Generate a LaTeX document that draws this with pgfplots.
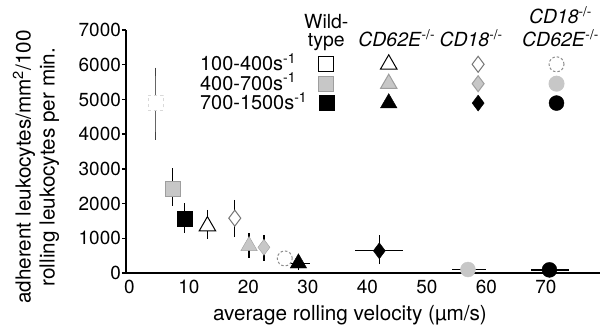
\documentclass[border=0pt]{standalone}
\usepackage{pgfplots}
\pgfplotsset{compat=1.18}
\usepackage{fontspec}
\setmainfont{TeX Gyre Heros}
\newcommand{\tkfont}{\fontsize{19}{22}\selectfont}
\newcommand{\lbfont}{\fontsize{20.8}{24}\selectfont}
\newcommand{\lgfont}{\fontsize{20}{20}\selectfont}
\newcommand{\hdfont}{\fontsize{19.5}{18.5}\selectfont}
\definecolor{lgray}{gray}{0.78}
\definecolor{mgray}{gray}{0.62}
\pgfplotsset{
  legmark/.style={legend image code/.code={\draw[#1] plot coordinates {(0bp,-1.5bp)}; \path (0bp,-9.5bp) (0bp,9.5bp);}},
  hdr/.style n args={4}{legend image code/.code={\node[overlay, anchor=base, inner sep=0pt] at (#1,0bp) {\hdfont\begin{tabular}[b]{@{}c@{}}#2\end{tabular}}; \path (-#3,-6bp) (#4,33.5bp);}},
  eb/.style={error bars/.cd, y dir=both, y explicit,
    error bar style={line width=1.3bp, black},
    error mark options={mark size=4bp, line width=1.3bp, black}},
  ebx/.style={error bars/.cd, y dir=both, y explicit, x dir=both, x explicit,
    error bar style={line width=1.3bp, black},
    error mark options={mark size=4bp, line width=1.3bp, black}},
}
\begin{document}
\begin{tikzpicture}
\begin{axis}[
  at={(0,0)}, anchor=south west,
  scale only axis, width=474bp, height=243bp,
  xmin=-0.59, xmax=79.1, ymin=0, ymax=7000,
  axis lines*=left, axis line style={line width=1.6bp, -},
  xtick={0,10,...,70}, ytick={0,1000,...,7000},
  tick align=outside, major tick length=4bp,
  tick style={line width=1.3bp, black},
  xtick style={draw=none},
  scaled y ticks=false,
  /pgf/number format/assume math mode=true,
  /pgf/number format/1000 sep={},
  tick label style={font=\tkfont},
  yticklabel style={inner xsep=1bp},
  every axis x label/.style={at={(axis description cs:0.4726,0)}, yshift=-42bp, anchor=center, font=\lbfont},
  every axis y label/.style={at={(axis description cs:0,0.436)}, xshift=-90bp, rotate=90, anchor=center, align=center, font=\lbfont},
  xlabel={average rolling velocity (µm/s)},
  ylabel={adherent leukocytes/mm\textsuperscript{2}/100\\rolling leukocytes per min.},
  clip=false,
  legend columns=5, legend cell align=left,
  legend style={at={(axis description cs:0.156,1.07)}, anchor=north west, draw=none, fill=none, inner sep=0pt, column sep=0pt, row sep=0pt, nodes={inner sep=0pt, text depth=0.15em}, font=\lgfont},
]
% legend header row
\addlegendimage{empty legend}\addlegendentry{\mbox{}}
\addlegendimage{hdr={0bp}{Wild-\\type}{26bp}{30bp}}\addlegendentry{\mbox{}}
\addlegendimage{hdr={8bp}{\textit{CD62E}\textsuperscript{-/-}}{31bp}{46bp}}\addlegendentry{\mbox{}}
\addlegendimage{hdr={-7bp}{\textit{CD18}\textsuperscript{-/-}}{42bp}{38bp}}\addlegendentry{\mbox{}}
\addlegendimage{hdr={4bp}{\textit{CD18}\textsuperscript{-/-}\\\textit{CD62E}\textsuperscript{-/-}}{39bp}{45bp}}\addlegendentry{\mbox{}}
% row 1
\addlegendimage{empty legend}\addlegendentry{\makebox[100bp][l]{100-400s\textsuperscript{-1}}}
\addlegendimage{legmark={only marks, mark=square*, mark size=7.5bp, draw=black, fill=white, line width=1bp}}\addlegendentry{\mbox{}}
\addlegendimage{legmark={only marks, mark=triangle*, mark size=9.5bp, draw=black, fill=white, line width=1bp}}\addlegendentry{\mbox{}}
\addlegendimage{legmark={only marks, mark=diamond*, mark size=8bp, draw=black!55, fill=white, line width=1bp}}\addlegendentry{\mbox{}}
\addlegendimage{legmark={only marks, mark=*, mark size=7.5bp, draw=black!45, fill=white, line width=1bp, mark options={dash pattern=on 2.5bp off 2bp}}}\addlegendentry{\mbox{}}
% row 2
\addlegendimage{empty legend}\addlegendentry{\makebox[100bp][l]{400-700s\textsuperscript{-1}}}
\addlegendimage{legmark={only marks, mark=square*, mark size=7.5bp, draw=mgray, fill=lgray, line width=1bp}}\addlegendentry{\mbox{}}
\addlegendimage{legmark={only marks, mark=triangle*, mark size=9.5bp, draw=mgray, fill=lgray, line width=1bp}}\addlegendentry{\mbox{}}
\addlegendimage{legmark={only marks, mark=diamond*, mark size=8bp, draw=mgray, fill=lgray, line width=1bp}}\addlegendentry{\mbox{}}
\addlegendimage{legmark={only marks, mark=*, mark size=7.5bp, draw=lgray, fill=lgray, line width=1bp}}\addlegendentry{\mbox{}}
% row 3
\addlegendimage{empty legend}\addlegendentry{\makebox[100bp][l]{700-1500s\textsuperscript{-1}}}
\addlegendimage{legmark={only marks, mark=square*, mark size=7.5bp, draw=black, fill=black}}\addlegendentry{\mbox{}}
\addlegendimage{legmark={only marks, mark=triangle*, mark size=9.5bp, draw=black, fill=black}}\addlegendentry{\mbox{}}
\addlegendimage{legmark={only marks, mark=diamond*, mark size=8bp, draw=black, fill=black}}\addlegendentry{\mbox{}}
\addlegendimage{legmark={only marks, mark=*, mark size=7.5bp, draw=black, fill=black}}\addlegendentry{\mbox{}}

% data
\addplot[forget plot, only marks, mark=square*, mark size=7.5bp, draw=gray!30, fill=white, mark options={line width=0.8bp, dash pattern=on 3bp off 3bp},
  error bars/.cd, y dir=both, y explicit, error bar style={line width=1.3bp, black!60}, error mark options={mark size=4bp, line width=1.3bp, black!75}]
  coordinates {(4.4,4900) += (0,900) -= (0,940)};
\addplot[forget plot, only marks, mark=square*, mark size=7.5bp, draw=mgray, fill=lgray, eb]
  coordinates {(7.2,2440) += (0,460) -= (0,385)};
\addplot[forget plot, only marks, mark=square*, mark size=7.5bp, draw=black, fill=black, eb]
  coordinates {(9.3,1550) += (0,350) -= (0,280)};
\addplot[forget plot, only marks, mark=triangle*, mark size=9.5bp, draw=black, fill=white, mark options={line width=1bp}, eb]
  coordinates {(13.1,1350) += (0,350) -= (0,255)};
\addplot[forget plot, only marks, mark=diamond*, mark size=8bp, draw=black!55, fill=white, mark options={line width=1bp}, eb]
  coordinates {(17.7,1580) += (0,410) -= (0,430)};
\addplot[forget plot, only marks, mark=triangle*, mark size=9.5bp, draw=mgray, fill=lgray, eb]
  coordinates {(20.1,780) += (0,250) -= (0,230)};
\addplot[forget plot, only marks, mark=diamond*, mark size=8bp, draw=mgray, fill=lgray, eb]
  coordinates {(22.6,740) += (0,240) -= (0,270)};
\addplot[forget plot, only marks, mark=*, mark size=7.5bp, draw=black!45, fill=white, mark options={line width=1bp, dash pattern=on 2.5bp off 2bp}]
  coordinates {(26.1,420)};
\addplot[forget plot, only marks, mark=triangle*, mark size=9.5bp, draw=black, fill=black, ebx]
  coordinates {(28.4,280) += (1.2,80) -= (1.2,80)};
\addplot[forget plot, only marks, mark=diamond*, mark size=8bp, draw=black, fill=black, ebx]
  coordinates {(42.0,640) += (3.3,330) -= (3.4,270)};
\addplot[forget plot, only marks, mark=*, mark size=7.5bp, draw=lgray, fill=lgray, ebx]
  coordinates {(56.9,100) += (2.3,0) -= (2.0,0)};
\addplot[forget plot, only marks, mark=*, mark size=7.5bp, draw=black, fill=black, ebx]
  coordinates {(70.6,90) += (2.6,0) -= (2.4,0)};
\end{axis}
\pgfresetboundingbox
\path[use as bounding box] (-126bp,-53bp) rectangle (476bp,273bp);
\end{tikzpicture}
\end{document}
